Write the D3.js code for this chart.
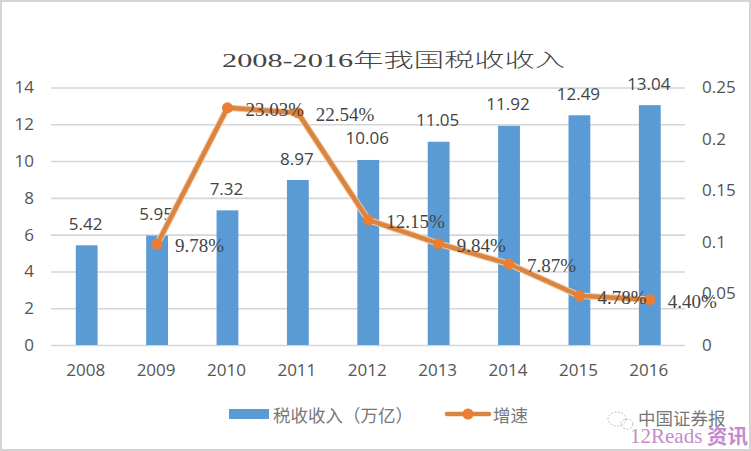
<!DOCTYPE html>
<html>
<head>
<meta charset="utf-8">
<script src="https://cdn.jsdelivr.net/npm/d3@7"></script>
<style>
  html, body { margin: 0; padding: 0; background: #fff; }
  svg { display: block; }
</style>
</head>
<body>
<script>
var years = [2008, 2009, 2010, 2011, 2012, 2013, 2014, 2015, 2016];
var revenue = [5.42, 5.95, 7.32, 8.97, 10.06, 11.05, 11.92, 12.49, 13.04];
var growthYears = [2009, 2010, 2011, 2012, 2013, 2014, 2015, 2016];
var growth = [0.0978, 0.2303, 0.2254, 0.1215, 0.0984, 0.0787, 0.0478, 0.044];
var growthLabels = ['9.78%', '23.03%', '22.54%', '12.15%', '9.84%', '7.87%', '4.78%', '4.40%'];
var leftTicks = [0, 2, 4, 6, 8, 10, 12, 14];
var rightTicks = [0, 0.05, 0.1, 0.15, 0.2, 0.25];

var width = 751, height = 451;
var sansFont = '"Open Sans", "Noto Sans CJK SC", sans-serif';
var serifFont = '"Liberation Serif", "Noto Sans CJK SC", serif';
var cjkFont = '"Noto Sans CJK SC", sans-serif';

var svg = d3.select('body').append('svg').attr('width', width).attr('height', height);

// grey frame of the screenshot
svg.append('rect').attr('x', 1).attr('y', 1).attr('width', width - 2).attr('height', height - 2)
  .attr('fill', '#fff').attr('stroke', '#d4d4d4').attr('stroke-width', 2);

var x = d3.scaleBand().domain(years).range([51.5, 685]).paddingInner(0.69).paddingOuter(0.345);
var y = d3.scaleLinear().domain([0, 14]).range([345, 87.5]);
var y2 = d3.scaleLinear().domain([0, 0.25]).range([345, 87.5]);

function cx(yr) { return x(yr) + x.bandwidth() / 2; }

// left axis, the tick lines double as gridlines
var leftAxis = d3.axisLeft(y).tickValues(leftTicks).tickSize(-(685 - 51)).tickPadding(17);
var gLeft = svg.append('g').attr('transform', 'translate(51,0)').call(leftAxis);
gLeft.select('.domain').remove();
gLeft.selectAll('line').attr('stroke', '#d6d6d6').attr('stroke-width', 1.6);
gLeft.selectAll('text').attr('font-family', sansFont).attr('font-size', 17).attr('fill', '#555');

var rightAxis = d3.axisRight(y2).tickValues(rightTicks).tickFormat(d3.format('~g')).tickSize(0).tickPadding(0);
var gRight = svg.append('g').attr('transform', 'translate(702,0)').call(rightAxis);
gRight.select('.domain').remove();
gRight.selectAll('text').attr('font-family', sansFont).attr('font-size', 17).attr('fill', '#555');

var bottomAxis = d3.axisBottom(x).tickSize(0).tickPadding(0);
var gBottom = svg.append('g').attr('transform', 'translate(-1,363.5)').call(bottomAxis);
gBottom.select('.domain').remove();
gBottom.selectAll('text').attr('font-family', sansFont).attr('font-size', 17).attr('fill', '#555');

// bars
svg.append('g').selectAll('rect').data(revenue).join('rect')
  .attr('x', function(d, i) { return x(years[i]); })
  .attr('y', function(d) { return y(d); })
  .attr('width', x.bandwidth())
  .attr('height', function(d) { return y(0) - y(d); })
  .attr('fill', '#5b9bd5');

svg.append('g').selectAll('text').data(revenue).join('text')
  .attr('x', function(d, i) { return cx(years[i]) - 1; })
  .attr('y', function(d) { return y(d) - 15.5; })
  .attr('text-anchor', 'middle')
  .attr('font-family', sansFont).attr('font-size', 17).attr('fill', '#444')
  .text(function(d) { return d.toFixed(2); });

// growth line
var lineGen = d3.line()
  .x(function(d, i) { return cx(growthYears[i]); })
  .y(function(d) { return y2(d); });

svg.append('path').datum(growth).attr('d', lineGen)
  .attr('fill', 'none').attr('stroke', '#f3c9a6').attr('stroke-width', 6.5).attr('stroke-linejoin', 'round');
svg.append('path').datum(growth).attr('d', lineGen)
  .attr('fill', 'none').attr('stroke', '#d9843f').attr('stroke-width', 4.5).attr('stroke-linejoin', 'round');

svg.append('g').selectAll('circle').data(growth).join('circle')
  .attr('cx', function(d, i) { return cx(growthYears[i]); })
  .attr('cy', function(d) { return y2(d); })
  .attr('r', 5.5).attr('fill', '#ed7d31');

svg.append('g').selectAll('text').data(growth).join('text')
  .attr('x', function(d, i) { return cx(growthYears[i]) + 18; })
  .attr('y', function(d) { return y2(d) + 8; })
  .attr('font-family', serifFont).attr('font-size', 19).attr('fill', '#444')
  .text(function(d, i) { return growthLabels[i]; });

// title, the original is stretched sideways and thin
svg.append('text').attr('x', 222).attr('y', 67)
  .attr('font-family', serifFont).attr('font-size', 19).attr('font-weight', 300).attr('fill', '#444')
  .attr('textLength', 343).attr('lengthAdjust', 'spacingAndGlyphs')
  .text('2008-2016年我国税收收入');

// legend
var legend = svg.append('g');
legend.append('rect').attr('x', 229).attr('y', 409).attr('width', 40).attr('height', 10).attr('fill', '#5b9bd5');
legend.append('text').attr('x', 273).attr('y', 422)
  .attr('font-family', cjkFont).attr('font-size', 17.5).attr('fill', '#777')
  .text('税收收入（万亿）');
legend.append('line').attr('x1', 447).attr('x2', 489).attr('y1', 414).attr('y2', 414)
  .attr('stroke', '#d9843f').attr('stroke-width', 4.5).attr('stroke-linecap', 'round');
legend.append('circle').attr('cx', 468).attr('cy', 414).attr('r', 5.5).attr('fill', '#ed7d31');
legend.append('text').attr('x', 493).attr('y', 422)
  .attr('font-family', cjkFont).attr('font-size', 17.5).attr('fill', '#777')
  .text('增速');

// watermarks, bottom right
var mark = svg.append('g').attr('fill', 'none').attr('stroke', '#aaa').attr('stroke-width', 0.8).attr('stroke-dasharray', '2 1.5');
mark.append('ellipse').attr('cx', 617).attr('cy', 419).attr('rx', 9).attr('ry', 7);
mark.append('ellipse').attr('cx', 627).attr('cy', 424).attr('rx', 6).attr('ry', 5);
svg.append('text').attr('x', 638).attr('y', 425)
  .attr('font-family', cjkFont).attr('font-size', 17.5).attr('fill', '#777')
  .text('中国证券报');
svg.append('text').attr('x', 630).attr('y', 443)
  .attr('font-family', serifFont).attr('font-size', 21).attr('fill', '#c48acb')
  .text('12Reads');
svg.append('text').attr('x', 707).attr('y', 444)
  .attr('font-family', cjkFont).attr('font-size', 20.5).attr('font-weight', 700).attr('fill', '#c48acb')
  .text('资讯');
</script>
</body>
</html>
